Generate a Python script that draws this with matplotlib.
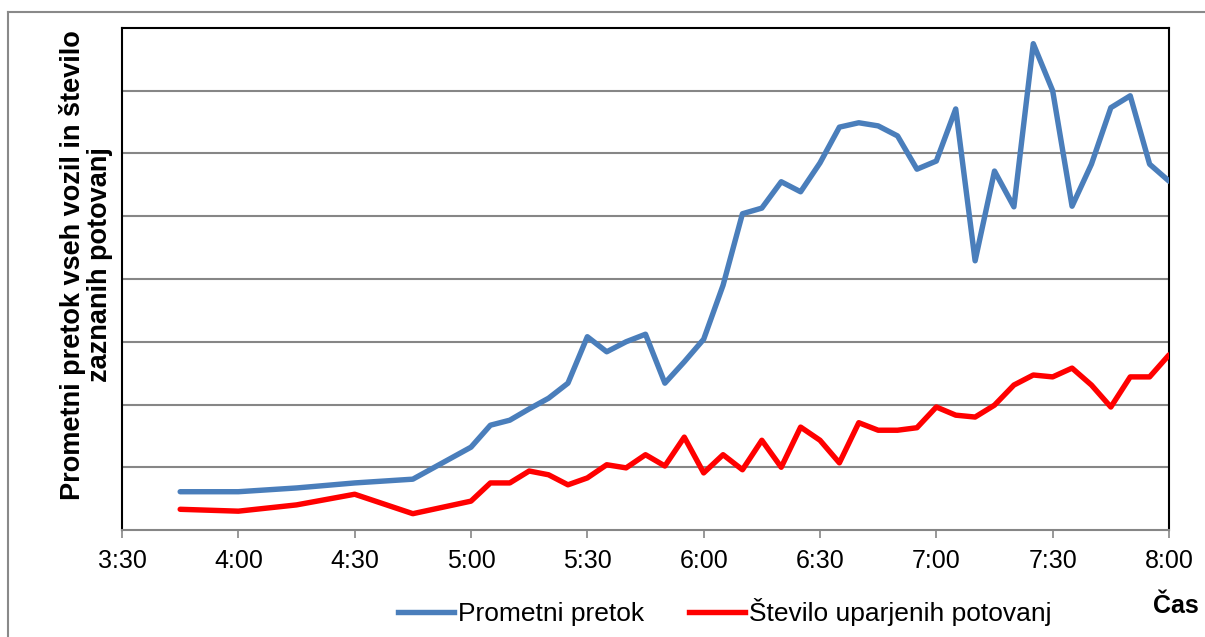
import matplotlib
matplotlib.use("Agg")
import matplotlib.pyplot as plt
from matplotlib.lines import Line2D

plt.rcParams['font.family'] = ['Liberation Sans', 'DejaVu Sans']

# Podatki (vrednosti odčitane s slike, enota = 1/100 razmika mreže)
casi = ["3:45", "4:00", "4:15", "4:30", "4:45", "5:00", "5:05", "5:10", "5:15", "5:20",
        "5:25", "5:30", "5:35", "5:40", "5:45", "5:50", "5:55", "6:00", "6:05", "6:10",
        "6:15", "6:20", "6:25", "6:30", "6:35", "6:40", "6:45", "6:50", "6:55", "7:00",
        "7:05", "7:10", "7:15", "7:20", "7:25", "7:30", "7:35", "7:40", "7:45", "7:50",
        "7:55", "8:00"]

pretok = [61, 61, 67, 75, 81, 132, 167, 175, 193, 210,
          234, 308, 284, 300, 312, 234, 268, 304, 390, 504,
          513, 555, 539, 585, 642, 649, 644, 628, 575, 588,
          671, 429, 572, 515, 775, 700, 516, 583, 673, 692,
          583, 556]

potovanja = [33, 30, 40, 57, 26, 46, 75, 75, 94, 88,
             72, 83, 104, 99, 120, 102, 148, 91, 120, 96,
             143, 100, 164, 143, 107, 171, 159, 159, 163, 196,
             183, 180, 199, 231, 247, 244, 258, 231, 196, 244,
             244, 279]

oznake_x = ["3:30", "4:00", "4:30", "5:00", "5:30", "6:00", "6:30", "7:00", "7:30", "8:00"]


def v_minute(s):
    h, m = s.split(":")
    return int(h) * 60 + int(m)


x = [v_minute(c) for c in casi]
x_ticks = [v_minute(c) for c in oznake_x]

W, H = 1205, 637
fig = plt.figure(figsize=(W / 100, H / 100), dpi=100)
ax = fig.add_axes([122 / W, 1 - 530 / H, (1169 - 122) / W, (530 - 28) / H])

modra = "#4A7EBB"
rdeca = "#FF0000"

ax.plot(x, pretok, color=modra, lw=3.9, solid_joinstyle="round", solid_capstyle="round", zorder=3)
ax.plot(x, potovanja, color=rdeca, lw=3.9, solid_joinstyle="round", solid_capstyle="round", zorder=3)

ax.set_xlim(x_ticks[0], x_ticks[-1])
ax.set_ylim(0, 800)
ax.set_xticks(x_ticks)
ax.set_xticklabels(oznake_x, fontsize=18)
ax.set_yticks(range(100, 800, 100))
ax.tick_params(axis="y", left=False, labelleft=False)
ax.tick_params(axis="x", direction="out", length=6, width=1.2, color="#868686", pad=8)
ax.grid(axis="y", color="#868686", lw=1.5)
ax.set_axisbelow(True)

for s in ["left", "top", "right"]:
    ax.spines[s].set_color("black")
    ax.spines[s].set_linewidth(1.5)
ax.spines["bottom"].set_color("#868686")
ax.spines["bottom"].set_linewidth(1.5)

fig.text(86 / W, 1 - 265 / H, "Prometni pretok vseh vozil in število\nzaznanih potovanj",
         rotation=90, ha="center", va="center", fontsize=19.5, fontweight="bold",
         linespacing=1.05)

fig.text(1176 / W, 1 - 606 / H, "Čas", ha="center", va="center", fontsize=18, fontweight="bold")

handles = [Line2D([0], [0], color=modra, lw=3.9),
           Line2D([0], [0], color=rdeca, lw=3.9)]
fig.legend(handles, ["Prometni pretok", "Število uparjenih potovanj"],
           loc="center", bbox_to_anchor=(725 / W, 1 - 612 / H), ncol=2,
           frameon=False, fontsize=19, handlelength=2.12, handletextpad=0.15,
           columnspacing=1.7, borderpad=0, borderaxespad=0)

# okvir grafikona
fig.add_artist(Line2D([8 / W, 1], [1 - 12 / H, 1 - 12 / H], color="#898989", lw=1.5))
fig.add_artist(Line2D([8 / W, 8 / W], [0, 1 - 12 / H], color="#898989", lw=1.5))

fig.savefig("out.png", dpi=100)
